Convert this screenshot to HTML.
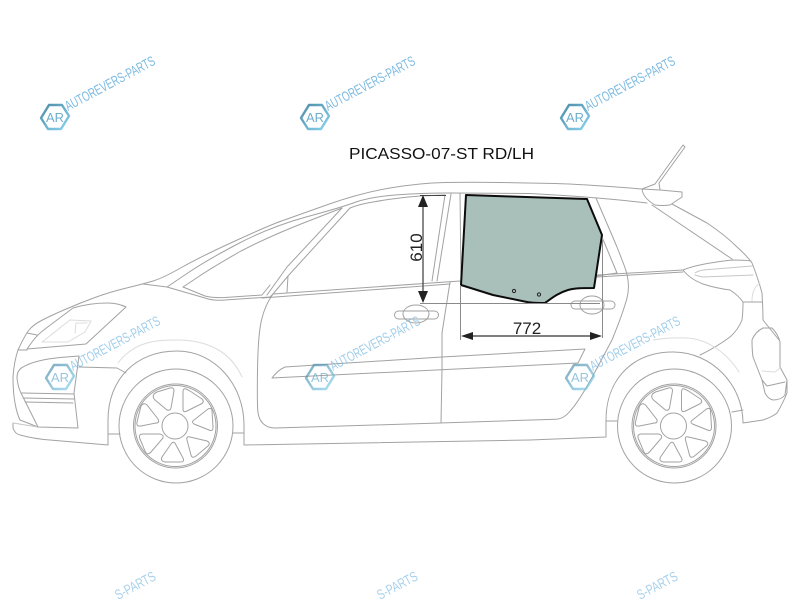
<!DOCTYPE html>
<html><head><meta charset="utf-8"><style>
html,body{margin:0;padding:0;background:#fff;width:800px;height:600px;overflow:hidden}
svg{display:block;filter:blur(.25px)}
.c polyline,.c path,.c circle,.c ellipse,.c rect{fill:none;stroke:#a2a2a2;stroke-width:1;stroke-linejoin:round;stroke-linecap:round}
.c .l{stroke:#dcdcdc}
.c .m{stroke:#c6c6c6}
text{font-family:"Liberation Sans",sans-serif}
</style></head><body>
<svg width="800" height="600" viewBox="0 0 800 600" xmlns="http://www.w3.org/2000/svg" xmlns:xlink="http://www.w3.org/1999/xlink">
<defs>
<linearGradient id="hg" x1="0" y1="0" x2="1" y2="1"><stop offset="0" stop-color="#3b7f9e"/><stop offset="1" stop-color="#7ed0ee"/></linearGradient>
<g id="wheel" fill="none" stroke="#a2a2a2">
<circle cx="176" cy="426" r="57"/>
<circle cx="175.500" cy="426" r="42"/>
<circle cx="175.500" cy="426" r="40.500"/>
<circle cx="175" cy="426" r="13"/>
<path d="M154 394Q152 397 155 400L167 410Q170 411 171 408L174 391Q174 387 170 388L157 392Q155 393 154 394Z"/>
<path d="M186 389Q183 388 183 392L183 409Q183 413 187 411L201 404Q205 402 202 399L190 391Z"/>
<path d="M208 409Q212 407 212 411L213 427Q213 432 209 430L194 424Q191 422 194 420Z"/>
<path d="M207 441Q211 443 208 446L196 456Q192 459 191 455L187 440Q186 436 190 437Z"/>
<path d="M171 444Q174 440 176 445L183 458Q185 462 180 462L165 462Q160 461 162 457Z"/>
<path d="M160 434Q164 435 163 438L151 452Q147 456 145 451L140 439Q138 434 143 434Z"/>
<path d="M141 406Q144 402 147 405L158 419Q160 423 156 423L141 426Q136 427 137 422Z"/>
</g>
<g id="logo">
<path d="M-6 -12L7 -12L14 -1L6 12L-7 12L-14 1Z" fill="none" stroke="url(#hg)" stroke-width="2.400" stroke-linejoin="round"/>
<text x="0" y="5" font-size="13" text-anchor="middle" fill="#5fa6c8" textLength="18" lengthAdjust="spacingAndGlyphs">AR</text>
</g>
<g id="wm">
<use xlink:href="#logo" href="#logo"/>
<text x="13" y="-6" font-size="14" fill="#6fb3de" textLength="100" lengthAdjust="spacingAndGlyphs" transform="rotate(-28 13 -6)">AUTOREVERS-PARTS</text>
</g>
</defs>
<g class="c">
<!-- roof and hood -->
<path d="M18 350Q25 335 29 330Q33 325 41.500 320.500Q50 316 65 309.500Q80 303 95 297.500Q110 292 126.500 288Q143 284 153 281Q163 278 181.500 267.500Q200 257 235 241Q270 225 281.500 221Q293 217 326.500 205Q360 193 390 188Q420 183 445 182.500Q470 182 500 182.500Q530 183 555 183.500Q580 184 642 189"/>
<path d="M167 287L187 273.500Q207 260 238.500 243.500Q270 227 306 217Q343 207 356 202Q370 197 395 195Q420 193 450 193L530 193.500Q597 197 647 203"/>
<path d="M183 287L198 277Q213 267 241 251Q270 236 306 222L342 208"/>
<path d="M183 287L205 296Q213 298 225 297.500L262 295L270 285"/>
<path d="M143 284L167 287L205 298Q213 301 225 300L270 297L273 294L460 281"/>
<polyline points="262,298 450,284"/>
<!-- A pillar, door window -->
<polyline points="342,208 287,267 267,295"/>
<polyline points="350,208 288,276 273,294"/>
<polyline points="288,276 287,292"/>
<path d="M350 208Q360 204 373 202Q395 198 420 196L445 195"/>
<polyline points="445,195 432,281"/>
<polyline points="451,194 437,281"/>
<polyline points="460,193 461,280"/>
<!-- door edges -->
<path d="M273 294Q265 305 261.500 320Q258 335 257.500 370Q257 405 258 412.500Q259 420 263.500 424Q268 428 275 428L440 423L556 419.200Q564 419 571 410Q580 400 596 370L612 340Q623 313 627 298Q631 283 624 265L617 247L596 198"/>
<polyline points="450,282 442,333 442,370 441,423"/>
<!-- door strip -->
<path d="M272 378Q278 370 285 367L442 357L585 349L578 363L272 378Z"/>
<!-- rear window -->
<polyline points="602,237 617,273 597,276"/>
<polyline points="597,275 683,270"/>
<polyline points="597,277 683,272"/>
<polyline points="652,205 732,259"/>
<path d="M683 270Q697 264 732 260Q745 260 751 261"/>
<path d="M672 204L707 223Q725 235 737 247Q748 257 752 263Q758 278 762 293Q763 310 763 320L779 340"/>
<!-- tail light -->
<path d="M683 270Q690 279 703 284Q715 288 730 290Q738 295 743 302L762 302"/>
<path d="M743 302Q743 312 742 320Q738 330 730 337Q715 348 700 355"/>
<path class="m" d="M695 273Q698 271 703 270L752 266"/>
<path class="m" d="M695 275Q698 276 703 277L753 275"/>
<path class="l" d="M752 301Q752 288 760 283"/>
<!-- spoiler, antenna -->
<path d="M642 189Q643 198 655 205Q662 206 670 205L682 197L682 192L660 190Z"/>
<polyline points="642,189 655,184 683,145 685,147 659,183 660,190"/>
<!-- rear bumper -->
<path d="M763 328Q755 332 752 340Q752 350 753 357L762 380L765 393Q768 399 773 400Q781 400 785 395L787 380L780 367L780 342Q778 334 772 328Z"/>
<polyline points="762,380 767,386 785,382"/>
<polyline class="l" points="762,371 775,372 780,368"/>
<!-- body bottom -->
<path d="M13 423L13 428Q15 434 20 435Q35 439 50 440L108 445L108 420C108 380 135 351 177 351C215 351 244 385 244 425L244 445L530 440L606 437L606 420C606 380 632 352 673 352C712 352 743 385 743 423L763 420Q772 417 777 413Q783 403 787 393L787 380"/>
<polyline points="108,434 120,434"/>
<polyline points="233,433 244,433"/>
<polyline points="606,421 617,421"/>
<polyline points="732,412 743,410"/>
<!-- front -->
<path d="M18 350Q14 362 13 377Q13 392 15 403Q17 414 20 420L38 427"/>
<polyline class="m" points="13,423 38,427"/>
<path d="M79 356L60 357.500Q35 360 23 367Q17 370 17 378Q18 388 22 395L38 427L78 428L74 393Z"/>
<polyline points="22,393 74,394"/>
<polyline points="23,398 74,399"/>
<polyline points="25,402 73,403"/>
<path d="M79 367L117 368L126 373"/>
<!-- headlight -->
<path d="M27 349L32 342Q37 335 45 329L73 308Q90 303 107 303Q118 303 126 307L86 344Z"/>
<polyline points="27,333 37,335"/>
<polyline points="18,350 27,350"/>
<polyline class="l" points="42,342 70,320 91,321 85,332 68,342 42,342"/>
<polyline class="l" points="75,333 76,323 87,323"/>
<!-- arcs -->
<path class="l" d="M118 363C135 340 160 340 177 340C205 340 230 350 242 377"/>
<path class="l" d="M653 340C670 337 680 338 687 338C705 339 725 350 739 372"/>
<!-- handles -->
<ellipse cx="416" cy="314" rx="13" ry="9"/>
<rect x="394.500" y="311" width="44" height="8" rx="4"/>
<ellipse cx="592" cy="305" rx="12" ry="9"/>
<rect x="571" y="301" width="44" height="8" rx="4"/>
</g>
<use xlink:href="#wheel" href="#wheel"/>
<use xlink:href="#wheel" href="#wheel" transform="translate(498.500 0)"/>
<!-- glass -->
<path d="M466 195L587 199L602 235L594 288C583 288 575 288 568 290C558 293 552 298 545 303C538 303 532 303 527 302L493 295L461 285Z" fill="#a9bfba" stroke="#0c0c0c" stroke-width="2" stroke-linejoin="round"/>
<circle cx="514" cy="291" r="1.600" fill="none" stroke="#222" stroke-width="1"/>
<circle cx="539" cy="294.500" r="1.600" fill="none" stroke="#222" stroke-width="1"/>
<!-- dimensions -->
<g stroke="#8a8a8a" stroke-width="1" fill="none">
<path d="M420 303.500H600"/>
<path d="M460.500 285V340"/>
<path d="M602.500 238V338"/>
</g>
<path d="M420 195.500H446" stroke="#444" stroke-width="1"/>
<path d="M423 200V300" stroke="#555" stroke-width="1.400"/>
<path d="M423 195L418 207H428Z M423 303L418 291H428Z" fill="#222"/>
<path d="M465 336H599" stroke="#555" stroke-width="1.400"/>
<path d="M461 336L473 332V340Z M602 336L590 332V340Z" fill="#222"/>
<text x="527" y="334" font-size="17" fill="#222" text-anchor="middle">772</text>
<text transform="translate(422 247.500) rotate(-90)" font-size="17" fill="#222" text-anchor="middle">610</text>
<text x="349" y="159" font-size="16" fill="#111" textLength="185" lengthAdjust="spacingAndGlyphs">PICASSO-07-ST RD/LH</text>
<!-- watermarks -->
<g opacity=".9">
<use xlink:href="#wm" href="#wm" x="55" y="117"/>
<use xlink:href="#wm" href="#wm" x="315" y="117"/>
<use xlink:href="#wm" href="#wm" x="575" y="117"/>
</g>
<g opacity=".65">
<use xlink:href="#wm" href="#wm" x="60" y="377"/>
<use xlink:href="#wm" href="#wm" x="320" y="377"/>
<use xlink:href="#wm" href="#wm" x="580" y="377"/>
</g>
<g opacity=".6" font-size="14" fill="#6fb3de">
<text x="118" y="600" textLength="44" lengthAdjust="spacingAndGlyphs" transform="rotate(-28 118 600)">S-PARTS</text>
<text x="380" y="600" textLength="44" lengthAdjust="spacingAndGlyphs" transform="rotate(-28 380 600)">S-PARTS</text>
<text x="640" y="600" textLength="44" lengthAdjust="spacingAndGlyphs" transform="rotate(-28 640 600)">S-PARTS</text>
</g>
</svg>
</body></html>
